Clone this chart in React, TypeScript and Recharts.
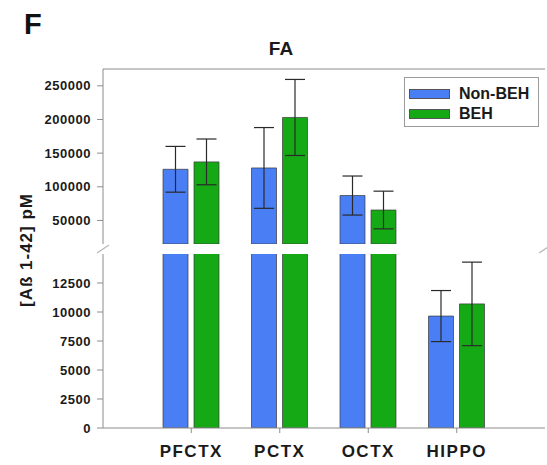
import React from 'react';
import { BarChart, Bar, XAxis, YAxis, ErrorBar, ReferenceLine, Legend } from 'recharts';

// Aβ 1-42 concentration per brain region (mean ± error)
const regions = ['PFCTX', 'PCTX', 'OCTX', 'HIPPO'];
const seriesNames = ['Non-BEH', 'BEH'];
const nonBeh = [126000, 128000, 87000, 9650];
const nonBehErr = [34000, 60000, 29000, 2200];
const beh = [137000, 203000, 65500, 10700];
const behErr = [34000, 56500, 28000, 3600];

// broken y axis: lower panel 0..BREAK, upper panel BREAK..UPPER_MAX
const lowerTicks = [0, 2500, 5000, 7500, 10000, 12500];
const upperTicks = [50000, 100000, 150000, 200000, 250000];
const BREAK = 15000;
const UPPER_MAX = 275000;

const BLUE = '#4a7ef4';
const GREEN = '#16a916';
const AXIS = '#8c8c8c';
const FONT = '"Liberation Sans", Arial, sans-serif';

const upperData = regions.map((region, i) => ({
  region,
  nonBeh: nonBeh[i] > BREAK ? nonBeh[i] : null,
  nonBehErr: nonBeh[i] > BREAK ? nonBehErr[i] : null,
  beh: beh[i] > BREAK ? beh[i] : null,
  behErr: beh[i] > BREAK ? behErr[i] : null,
}));

const lowerData = regions.map((region, i) => ({
  region,
  nonBeh: nonBeh[i],
  nonBehErr: nonBeh[i] <= BREAK ? nonBehErr[i] : null,
  beh: beh[i],
  behErr: beh[i] <= BREAK ? behErr[i] : null,
}));

const tickStyle = { fill: '#1a1a1a', fontSize: 13, fontWeight: 700, letterSpacing: 0.5, fontFamily: FONT };
const xPadding = { left: 44, right: 44 };

const LegendBox = ({ payload }: any) => {
  const items = [...(payload || [])].sort(
    (a: any, b: any) => seriesNames.indexOf(a.value) - seriesNames.indexOf(b.value)
  );
  return (
    <div
      style={{
        boxSizing: 'border-box',
        width: 135,
        height: 50,
        border: '1px solid #9a9a9a',
        paddingTop: 6,
        background: '#fff',
      }}
    >
      {items.map((entry: any) => (
        <div key={entry.value} style={{ display: 'flex', alignItems: 'center', height: 20 }}>
          <span
            style={{
              display: 'inline-block',
              width: 39,
              height: 8,
              marginLeft: 4,
              marginRight: 9,
              background: entry.color,
              border: '0.5px solid #555',
            }}
          />
          <span style={{ fontSize: 16, fontWeight: 700, color: '#1a1a1a', fontFamily: FONT }}>{entry.value}</span>
        </div>
      ))}
    </div>
  );
};

export default function App() {
  return (
    <div style={{ position: 'relative', width: 547, height: 465, background: '#fff', fontFamily: FONT }}>
      <style>{'body{margin:0;}'}</style>

      <div style={{ position: 'absolute', left: 24, top: 8, fontSize: 29, fontWeight: 700, color: '#111' }}>F</div>
      <div style={{ position: 'absolute', left: 0, width: 562, top: 38, textAlign: 'center', fontSize: 19, fontWeight: 700, color: '#1a1a1a' }}>
        FA
      </div>
      <div
        style={{
          position: 'absolute',
          left: 27,
          top: 250,
          transform: 'translate(-50%, -50%) rotate(-90deg)',
          whiteSpace: 'nowrap',
          fontSize: 17,
          fontWeight: 700,
          letterSpacing: 1,
          color: '#1a1a1a',
        }}
      >
        [Aß 1-42] pM
      </div>

      {/* upper panel */}
      <div style={{ position: 'absolute', left: 0, top: 0 }}>
        <BarChart
          width={547}
          height={250}
          data={upperData}
          margin={{ top: 69, right: 2, left: 43, bottom: 6 }}
          barSize={25}
          barGap={6}
        >
          <XAxis dataKey="region" hide padding={xPadding} />
          <YAxis
            yAxisId="left"
            type="number"
            domain={[BREAK, UPPER_MAX]}
            ticks={upperTicks}
            interval={0}
            allowDataOverflow
            width={60}
            tickSize={6}
            tickMargin={6}
            tick={tickStyle}
            tickLine={{ stroke: AXIS }}
            axisLine={{ stroke: AXIS }}
          />
          <YAxis yAxisId="right" orientation="right" width={0} tick={false} tickLine={false} axisLine={{ stroke: AXIS }} />
          <ReferenceLine yAxisId="left" y={UPPER_MAX} stroke={AXIS} />
          <Legend
            layout="vertical"
            align="center"
            verticalAlign="middle"
            wrapperStyle={{ left: 404, top: 77, width: 135 }}
            content={<LegendBox />}
          />
          <Bar yAxisId="left" dataKey="nonBeh" name="Non-BEH" fill={BLUE} stroke="#3a3a3a" strokeWidth={0.7} isAnimationActive={false}>
            <ErrorBar dataKey="nonBehErr" width={10} stroke="#2a2a2a" strokeWidth={1.2} />
          </Bar>
          <Bar yAxisId="left" dataKey="beh" name="BEH" fill={GREEN} stroke="#3a3a3a" strokeWidth={0.7} isAnimationActive={false}>
            <ErrorBar dataKey="behErr" width={10} stroke="#2a2a2a" strokeWidth={1.2} />
          </Bar>
        </BarChart>
      </div>

      {/* lower panel */}
      <div style={{ position: 'absolute', left: 0, top: 0 }}>
        <BarChart
          width={547}
          height={465}
          data={lowerData}
          margin={{ top: 254, right: 2, left: 43, bottom: 7 }}
          barSize={25}
          barGap={6}
        >
          <XAxis
            dataKey="region"
            padding={xPadding}
            height={30}
            tickSize={5}
            tickMargin={12}
            tick={{ fill: '#1a1a1a', fontSize: 17, fontWeight: 700, letterSpacing: 1.5, fontFamily: FONT }}
            tickLine={{ stroke: AXIS }}
            axisLine={{ stroke: AXIS }}
          />
          <YAxis
            yAxisId="left"
            type="number"
            domain={[0, BREAK]}
            ticks={lowerTicks}
            interval={0}
            allowDataOverflow
            width={60}
            tickSize={6}
            tickMargin={6}
            tick={tickStyle}
            tickLine={{ stroke: AXIS }}
            axisLine={{ stroke: AXIS }}
          />
          <YAxis yAxisId="right" orientation="right" width={0} tick={false} tickLine={false} axisLine={{ stroke: AXIS }} />
          <Bar yAxisId="left" dataKey="nonBeh" name="Non-BEH" fill={BLUE} stroke="#3a3a3a" strokeWidth={0.7} isAnimationActive={false}>
            <ErrorBar dataKey="nonBehErr" width={10} stroke="#2a2a2a" strokeWidth={1.2} />
          </Bar>
          <Bar yAxisId="left" dataKey="beh" name="BEH" fill={GREEN} stroke="#3a3a3a" strokeWidth={0.7} isAnimationActive={false}>
            <ErrorBar dataKey="behErr" width={10} stroke="#2a2a2a" strokeWidth={1.2} />
          </Bar>
        </BarChart>
      </div>

      {/* axis break marks */}
      <svg width={547} height={465} style={{ position: 'absolute', left: 0, top: 0, pointerEvents: 'none' }}>
        <line x1={97} y1={253} x2={109} y2={245} stroke="#b5b5b5" strokeWidth={1.2} />
        <line x1={539} y1={253} x2={551} y2={245} stroke="#b5b5b5" strokeWidth={1.2} />
      </svg>
    </div>
  );
}
